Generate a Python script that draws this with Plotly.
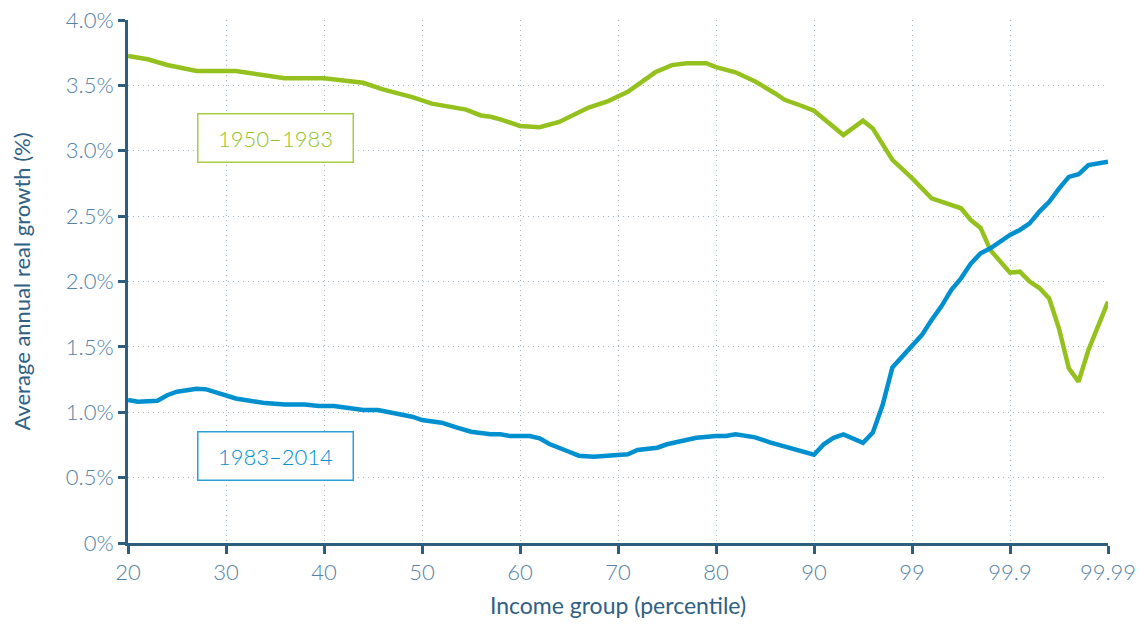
import plotly.graph_objects as go

# x positions: 20..90 are percentiles; 100 = P99, 110 = P99.9, 120 = P99.99 (equal-width segments)
tick_pos = [20, 30, 40, 50, 60, 70, 80, 90, 100, 110, 120]
tick_text = ["20", "30", "40", "50", "60", "70", "80", "90", "99", "99.9", "99.99"]

y_ticks = [0, 0.5, 1.0, 1.5, 2.0, 2.5, 3.0, 3.5, 4.0]
y_ticktext = ["0%", "0.5%", "1.0%", "1.5%", "2.0%", "2.5%", "3.0%", "3.5%", "4.0%"]

green_x = [20, 22, 24, 26, 27, 31, 33, 36, 40, 42, 44, 46, 49, 51, 53, 54.5, 56, 57, 58, 60,
           62, 64, 67, 69, 71, 72, 73.8, 75.5, 77, 79, 80, 82, 84, 86, 87, 88.5, 90, 93, 95, 96,
           97, 98, 100, 102, 105, 106, 107, 108, 110, 111, 112, 113, 114, 115, 116, 117, 118, 120]
green_y = [3.725, 3.70, 3.656, 3.625, 3.61, 3.61, 3.585, 3.555, 3.554, 3.54, 3.52, 3.47, 3.41, 3.36,
           3.33, 3.315, 3.27, 3.26, 3.24, 3.19, 3.18, 3.22, 3.33, 3.38, 3.45, 3.50, 3.60, 3.655,
           3.67, 3.67, 3.64, 3.60, 3.53, 3.44, 3.39, 3.35, 3.306, 3.12, 3.23, 3.17, 3.056, 2.93,
           2.79, 2.636, 2.56, 2.47, 2.41, 2.24, 2.067, 2.075, 2.0, 1.95, 1.87, 1.64, 1.336, 1.234,
           1.476, 1.846]

blue_x = [20, 21, 23, 24, 25, 27, 28, 30, 31, 34, 36, 38, 39.5, 41, 44, 45.5, 49, 50, 52, 53.5,
          55, 57, 58, 59, 61, 62, 63, 65, 66, 67.5, 70, 71, 72, 74, 75, 77, 78, 80, 81, 82, 84,
          85.5, 87.5, 88.5, 90, 91, 92, 93, 95, 96, 97, 98, 100, 101, 102, 103, 104, 105, 106,
          107, 108, 110, 111, 112, 113, 114, 115, 116, 117, 118, 120]
blue_y = [1.094, 1.08, 1.088, 1.13, 1.157, 1.18, 1.175, 1.13, 1.105, 1.07, 1.06, 1.06, 1.048, 1.048,
          1.017, 1.017, 0.966, 0.94, 0.92, 0.885, 0.851, 0.831, 0.831, 0.818, 0.818, 0.80, 0.757,
          0.698, 0.668, 0.66, 0.673, 0.678, 0.711, 0.729, 0.755, 0.788, 0.805, 0.818, 0.818, 0.831,
          0.808, 0.77, 0.729, 0.711, 0.675, 0.755, 0.805, 0.831, 0.767, 0.844, 1.055, 1.343, 1.50,
          1.59, 1.706, 1.81, 1.935, 2.024, 2.137, 2.216, 2.254, 2.356, 2.394, 2.445, 2.535, 2.61,
          2.71, 2.80, 2.82, 2.89, 2.916]

GREEN = "#95C11F"
BLUE = "#0090D0"
AXIS = "#2D5E7E"
TICKC = "#5482A5"
TITLEC = "#2F6085"
GRID = "#A2B5C3"
FONT = "Lato, 'Open Sans', sans-serif"

fig = go.Figure()
fig.add_trace(go.Scatter(x=green_x, y=green_y, mode="lines", name="1950–1983",
                         line=dict(color=GREEN, width=4.5), showlegend=False))
fig.add_trace(go.Scatter(x=blue_x, y=blue_y, mode="lines", name="1983–2014",
                         line=dict(color=BLUE, width=4.5), showlegend=False))

fig.add_annotation(x=35, y=3.10, text="1950–1983", showarrow=False,
                   font=dict(family=FONT, size=22, color=GREEN, weight=300),
                   bordercolor="#A9CC45", borderwidth=1.5, bgcolor="white",
                   width=152, height=45)
fig.add_annotation(x=35, y=0.665, text="1983–2014", showarrow=False,
                   font=dict(family=FONT, size=22, color=BLUE, weight=300),
                   bordercolor="#2AA0D8", borderwidth=1.5, bgcolor="white",
                   width=152, height=45)

fig.update_layout(
    width=1147, height=624,
    margin=dict(l=128, r=39, t=20, b=81, autoexpand=False),
    paper_bgcolor="white", plot_bgcolor="white",
    font=dict(family=FONT, color=TICKC),
    xaxis=dict(range=[20, 120], tickvals=tick_pos, ticktext=tick_text,
               automargin=False, ticklabeloverflow="allow",
               showgrid=True, gridcolor=GRID, griddash="1px,4px", gridwidth=1.2,
               showline=True, linecolor=AXIS, linewidth=3,
               ticks="outside", ticklen=8, tickwidth=2.5, tickcolor=AXIS,
               tickfont=dict(family=FONT, size=22, color=TICKC, weight=300),
               zeroline=False,
               title=dict(text="Income group (percentile)", standoff=14,
                          font=dict(family=FONT, size=23, color=TITLEC))),
    yaxis=dict(range=[0, 4.0], tickvals=y_ticks, ticktext=y_ticktext,
               automargin=False, ticklabeloverflow="allow",
               showgrid=True, gridcolor=GRID, griddash="1px,4px", gridwidth=1.2,
               showline=True, linecolor=AXIS, linewidth=3,
               ticks="outside", ticklen=7, tickwidth=2.5, tickcolor=AXIS,
               tickfont=dict(family=FONT, size=22, color=TICKC, weight=300),
               zeroline=False,
               title=dict(text="Average annual real growth (%)", standoff=30,
                          font=dict(family=FONT, size=22, color=TITLEC))),
)

# remove the default 8px page margin so the figure fills the window exactly
fig.write_html("out.html", config={"displayModeBar": False},
               post_script="document.body.style.margin='0px';document.body.style.overflow='hidden';")
